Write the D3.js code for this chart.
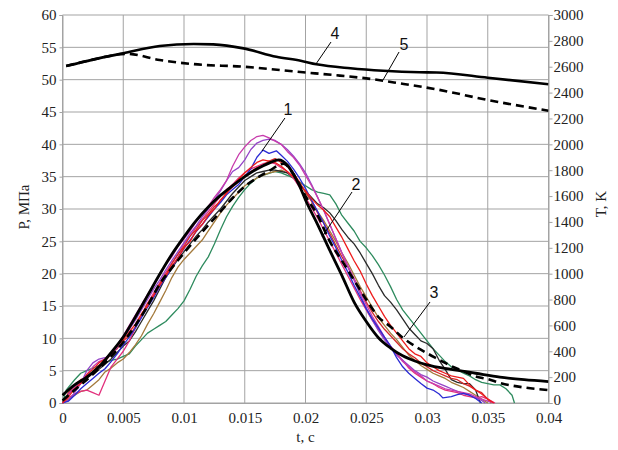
<!DOCTYPE html>
<html><head><meta charset="utf-8">
<script src="https://cdn.jsdelivr.net/npm/d3@7/dist/d3.min.js"></script>
<style>body{margin:0;background:#fff}svg{display:block}.serif{font-family:"Liberation Serif","Times New Roman",serif}</style>
</head><body><svg id="c" width="618" height="450"></svg>
<script>
// ---- ticks ----
const xTicks = [0,0.005,0.01,0.015,0.02,0.025,0.03,0.035,0.04];
const xTickLabels = ["0","0.005","0.01","0.015","0.02","0.025","0.03","0.035","0.04"];
const pTicks = [0,5,10,15,20,25,30,35,40,45,50,55,60];
const tTicks = [0,200,400,600,800,1000,1200,1400,1600,1800,2000,2200,2400,2600,2800,3000];

// ---- experimental pressure curves [t (s), P (MPa)] ----
const expBlue = [[0,0],[0.0005,0.3],[0.001,1.2],[0.0015,2.2],[0.002,3.0],[0.0025,3.8],[0.003,4.6],[0.0035,5.3],[0.004,6.4],[0.0045,7.6],[0.005,9.0],[0.0055,10.2],[0.006,11.6],[0.0065,13.2],[0.007,14.8],[0.0075,16.3],[0.008,18.0],[0.0085,19.4],[0.009,20.9],[0.0095,22.5],[0.010,23.9],[0.0105,25.2],[0.011,26.5],[0.0115,27.6],[0.012,28.8],[0.0125,30.0],[0.013,31.0],[0.0135,32.2],[0.014,33.0],[0.0145,33.8],[0.015,35.0],[0.0155,36.2],[0.016,38.0],[0.0165,39.1],[0.017,38.6],[0.0176,39.0],[0.018,38.3],[0.0185,37.4],[0.019,36.2],[0.0195,34.8],[0.020,33.2],[0.0205,31.4],[0.021,29.6],[0.0215,27.8],[0.022,25.8],[0.0225,24.0],[0.023,22.0],[0.0235,20.2],[0.024,18.2],[0.0245,16.4],[0.025,14.6],[0.0255,13.0],[0.026,11.6],[0.0265,10.2],[0.027,8.8],[0.0275,7.0],[0.028,5.6],[0.0285,4.6],[0.029,3.8],[0.0295,3.0],[0.030,2.3],[0.0305,2.0],[0.031,1.4],[0.0313,0.8],[0.032,1.0],[0.0325,1.3],[0.033,1.5],[0.0335,1.2],[0.034,0.7],[0.0345,0]];
const expRed1 = [[0,0],[0.0005,1.0],[0.001,2.2],[0.0015,3.0],[0.002,4.4],[0.0025,5.2],[0.003,6.2],[0.0035,6.8],[0.004,7.6],[0.0045,8.8],[0.005,9.8],[0.0055,11.0],[0.006,12.2],[0.0065,13.8],[0.007,15.0],[0.0075,16.6],[0.008,18.2],[0.0085,19.6],[0.009,21.2],[0.0095,22.4],[0.010,24.0],[0.0105,25.0],[0.011,26.6],[0.0115,27.6],[0.012,29.0],[0.0125,30.0],[0.013,31.4],[0.0135,32.4],[0.014,33.6],[0.0145,34.6],[0.015,35.6],[0.0155,36.4],[0.016,37.2],[0.0165,37.6],[0.017,37.4],[0.0175,37.2],[0.018,36.6],[0.0185,35.8],[0.019,35.0],[0.0195,33.8],[0.020,32.8],[0.0205,31.6],[0.021,30.6],[0.0215,29.8],[0.022,28.8],[0.0225,27.2],[0.023,25.6],[0.0235,23.8],[0.024,22.0],[0.0245,20.4],[0.025,18.4],[0.0255,16.6],[0.026,15.0],[0.0265,13.4],[0.027,12.0],[0.0275,10.8],[0.028,9.6],[0.0285,8.4],[0.029,7.6],[0.0295,7.2],[0.030,6.2],[0.0305,5.6],[0.031,5.0],[0.0315,4.6],[0.032,4.2],[0.0325,4.0],[0.033,3.8],[0.0335,2.8],[0.034,2.0],[0.0345,1.4],[0.035,0.6],[0.0355,0]];
const expRed2 = [[0,0],[0.0005,1.6],[0.001,2.8],[0.0015,3.6],[0.002,4.0],[0.0025,4.8],[0.003,5.8],[0.0035,6.4],[0.004,7.6],[0.0045,8.4],[0.005,9.6],[0.0055,10.4],[0.006,11.8],[0.0065,13.6],[0.007,15.4],[0.0075,16.6],[0.008,18.4],[0.0085,19.8],[0.009,21.6],[0.0095,23.0],[0.010,24.2],[0.0105,25.8],[0.011,26.8],[0.0115,28.2],[0.012,29.2],[0.0125,30.4],[0.013,31.2],[0.0135,32.6],[0.014,33.4],[0.0145,34.2],[0.015,35.2],[0.0155,35.8],[0.016,36.4],[0.0165,36.8],[0.017,37.4],[0.0175,37.8],[0.018,37.2],[0.0185,36.6],[0.019,35.6],[0.0195,34.2],[0.020,32.6],[0.0205,31.2],[0.021,29.4],[0.0215,27.8],[0.022,26.2],[0.0225,24.4],[0.023,22.6],[0.0235,21.0],[0.024,19.2],[0.0245,17.4],[0.025,15.6],[0.0255,14.0],[0.026,12.6],[0.0265,11.4],[0.027,10.4],[0.0275,9.4],[0.028,8.4],[0.0285,7.6],[0.029,7.0],[0.0295,6.2],[0.030,5.6],[0.0305,5.0],[0.031,4.6],[0.0315,4.2],[0.032,3.8],[0.0325,3.6],[0.033,3.0],[0.0335,2.6],[0.034,2.0],[0.0345,1.6],[0.035,0.6],[0.0353,0]];
const expMagenta = [[0,0],[0.0005,1.4],[0.001,2.4],[0.0015,3.2],[0.002,4.4],[0.0025,5.6],[0.003,6.4],[0.0035,6.8],[0.004,7.8],[0.0045,9.0],[0.005,10.4],[0.0055,12.0],[0.006,13.6],[0.0065,15.2],[0.007,16.8],[0.0075,18.2],[0.008,19.8],[0.0085,21.4],[0.009,22.6],[0.0095,24.2],[0.010,25.4],[0.0105,26.6],[0.011,28.0],[0.0115,29.2],[0.012,30.4],[0.0125,31.8],[0.013,33.0],[0.0135,34.4],[0.014,36.6],[0.0145,38.4],[0.015,39.6],[0.0155,40.6],[0.016,41.2],[0.0165,41.4],[0.017,41.0],[0.0175,40.5],[0.018,40.0],[0.0185,38.9],[0.019,38.0],[0.0195,36.8],[0.020,35.2],[0.0205,33.6],[0.021,31.8],[0.0215,29.8],[0.022,27.6],[0.0225,25.4],[0.023,23.2],[0.0235,21.2],[0.024,19.2],[0.0245,17.2],[0.025,15.2],[0.0255,13.4],[0.026,11.8],[0.0265,10.2],[0.027,8.8],[0.0275,7.6],[0.028,6.4],[0.0285,5.6],[0.029,4.8],[0.0295,4.2],[0.030,3.4],[0.0305,3.0],[0.031,2.6],[0.0315,2.2],[0.032,2.0],[0.0325,1.8],[0.033,1.6],[0.0335,1.4],[0.034,1.0],[0.0345,0.6],[0.035,0.3],[0.0355,0]];
const expPurple = [[0,0],[0.0005,0.4],[0.001,1.6],[0.0015,3.0],[0.002,5.0],[0.0025,6.2],[0.003,6.8],[0.0035,7.0],[0.004,7.4],[0.0045,8.6],[0.005,10.0],[0.0055,11.4],[0.006,12.8],[0.0065,14.4],[0.007,16.0],[0.0075,17.6],[0.008,19.0],[0.0085,20.6],[0.009,22.0],[0.0095,23.4],[0.010,24.8],[0.0105,26.2],[0.011,27.4],[0.0115,28.8],[0.012,30.0],[0.0125,31.4],[0.013,32.8],[0.0135,34.4],[0.014,35.8],[0.0145,36.4],[0.015,37.6],[0.0155,39.2],[0.016,40.2],[0.0165,40.6],[0.017,40.8],[0.0175,40.6],[0.018,40.0],[0.0185,39.2],[0.019,38.2],[0.0195,37.0],[0.020,35.6],[0.0205,33.8],[0.021,31.8],[0.0215,29.8],[0.022,27.6],[0.0225,25.4],[0.023,23.2],[0.0235,21.0],[0.024,19.0],[0.0245,16.8],[0.025,14.6],[0.0255,12.8],[0.026,11.2],[0.0265,9.8],[0.027,8.6],[0.0275,7.4],[0.028,6.6],[0.0285,5.8],[0.029,5.0],[0.0295,4.4],[0.030,4.0],[0.0305,3.4],[0.031,3.0],[0.0315,2.6],[0.032,2.2],[0.0325,1.8],[0.033,1.5],[0.0335,1.2],[0.034,0.8],[0.0345,0.4],[0.0348,0]];
const expGreen = [[0,0],[0.0003,2.0],[0.001,3.6],[0.0015,4.6],[0.002,5.0],[0.0025,5.4],[0.003,5.8],[0.0035,6.2],[0.004,6.6],[0.0045,6.8],[0.005,7.2],[0.0055,7.6],[0.006,8.8],[0.0065,9.8],[0.007,10.8],[0.0075,11.4],[0.008,12.0],[0.0085,12.6],[0.009,13.6],[0.0095,14.6],[0.010,15.8],[0.0105,17.6],[0.011,19.6],[0.0115,21.2],[0.012,22.6],[0.0125,24.6],[0.013,26.8],[0.0135,28.8],[0.014,30.4],[0.0145,31.8],[0.015,33.0],[0.0155,34.0],[0.016,34.8],[0.0165,35.2],[0.017,35.5],[0.0175,35.8],[0.018,35.6],[0.0185,35.2],[0.019,34.8],[0.0195,34.2],[0.020,33.6],[0.0205,33.0],[0.021,32.6],[0.0215,32.4],[0.022,32.2],[0.0225,30.8],[0.023,29.0],[0.0235,27.8],[0.024,26.6],[0.0245,25.0],[0.025,24.0],[0.0255,22.8],[0.026,21.4],[0.0265,19.8],[0.027,18.0],[0.0275,16.0],[0.028,14.4],[0.0285,13.2],[0.029,12.0],[0.0295,10.8],[0.030,9.6],[0.0305,8.4],[0.031,7.4],[0.0315,6.4],[0.032,5.6],[0.0325,5.2],[0.033,4.6],[0.0335,4.2],[0.034,3.6],[0.0345,3.2],[0.035,3.0],[0.0355,2.8],[0.036,2.8],[0.0365,2.2],[0.037,1.2],[0.0372,0]];
const expBrown = [[0,0],[0.0005,0.6],[0.001,1.2],[0.0015,1.8],[0.002,2.0],[0.0025,2.8],[0.003,3.6],[0.0035,4.8],[0.004,5.4],[0.0045,6.2],[0.005,6.8],[0.0055,7.8],[0.006,9.0],[0.0065,10.4],[0.007,12.2],[0.0075,13.8],[0.008,15.6],[0.0085,17.4],[0.009,19.4],[0.0095,21.0],[0.010,22.2],[0.0105,23.2],[0.011,24.2],[0.0115,25.2],[0.012,26.6],[0.0125,28.0],[0.013,29.4],[0.0135,30.6],[0.014,31.6],[0.0145,32.6],[0.015,33.6],[0.0155,34.2],[0.016,34.8],[0.0165,35.2],[0.017,35.6],[0.0175,35.8],[0.018,36.0],[0.0185,35.6],[0.019,35.0],[0.0195,34.0],[0.020,32.6],[0.0205,31.2],[0.021,29.6],[0.0215,28.2],[0.022,26.6],[0.0225,25.0],[0.023,23.2],[0.0235,21.6],[0.024,19.8],[0.0245,18.0],[0.025,16.4],[0.0255,14.8],[0.026,13.2],[0.0265,12.0],[0.027,10.8],[0.0275,9.8],[0.028,8.6],[0.0285,7.4],[0.029,6.6],[0.0295,5.8],[0.030,5.2],[0.0305,4.6],[0.031,4.2],[0.0315,3.8],[0.032,3.2],[0.0325,2.8],[0.033,2.4],[0.0335,1.8],[0.034,1.2],[0.0345,0.6],[0.035,0]];
const expBlack = [[0,0],[0.0005,1.4],[0.001,2.4],[0.0015,3.0],[0.002,3.8],[0.0025,4.6],[0.003,5.2],[0.0035,6.0],[0.004,6.8],[0.0045,7.8],[0.005,8.8],[0.0055,9.6],[0.006,11.0],[0.0065,12.6],[0.007,14.2],[0.0075,15.8],[0.008,17.6],[0.0085,19.4],[0.009,20.8],[0.0095,22.2],[0.010,23.4],[0.0105,24.6],[0.011,25.8],[0.0115,26.8],[0.012,28.0],[0.0125,29.0],[0.013,30.0],[0.0135,31.2],[0.014,32.4],[0.0145,33.4],[0.015,34.4],[0.0155,35.0],[0.016,35.6],[0.0165,35.8],[0.017,36.0],[0.0175,36.0],[0.018,35.8],[0.0185,35.6],[0.019,34.8],[0.0195,33.8],[0.020,32.8],[0.0205,31.8],[0.021,30.8],[0.0215,30.2],[0.022,29.4],[0.0225,28.2],[0.023,26.8],[0.0235,25.6],[0.024,24.6],[0.0245,23.2],[0.025,21.6],[0.0255,20.0],[0.026,18.2],[0.0265,16.6],[0.027,15.6],[0.0275,14.4],[0.028,13.0],[0.0285,11.6],[0.029,10.6],[0.0295,9.6],[0.030,9.2],[0.0305,8.4],[0.031,6.6],[0.0315,5.2],[0.032,3.6],[0.0325,3.2],[0.033,3.0],[0.0335,3.0],[0.034,2.0],[0.0344,0]];
const expPink = [[0,0],[0.0005,0.8],[0.001,1.4],[0.0015,1.8],[0.002,2.0],[0.0025,1.6],[0.003,1.2],[0.0035,3.4],[0.004,5.6],[0.0045,6.8],[0.005,8.0],[0.0055,9.6],[0.006,11.6],[0.0065,13.4],[0.007,15.4],[0.0075,17.0],[0.008,18.6],[0.0085,20.2],[0.009,21.6],[0.0095,23.0],[0.010,24.6],[0.0105,25.8],[0.011,27.2],[0.0115,28.4],[0.012,29.6],[0.0125,30.8],[0.013,32.0],[0.0135,33.0],[0.014,33.8],[0.0145,34.8],[0.015,35.6],[0.0155,36.2],[0.016,36.6],[0.0165,37.0],[0.017,37.2],[0.0175,37.0],[0.018,36.4],[0.0185,35.8],[0.019,34.8],[0.0195,33.4],[0.020,31.8],[0.0205,30.2],[0.021,28.6],[0.0215,26.8],[0.022,25.0],[0.0225,23.2],[0.023,21.4],[0.0235,19.6],[0.024,17.8],[0.0245,16.0],[0.025,14.4],[0.0255,12.8],[0.026,11.4],[0.0265,10.0],[0.027,8.8],[0.0275,7.6],[0.028,6.6],[0.0285,5.4],[0.029,4.6],[0.0295,4.0],[0.030,3.4],[0.0305,3.0],[0.031,2.4],[0.0315,2.0],[0.032,1.8],[0.0325,1.6],[0.033,1.2],[0.0335,1.0],[0.034,0.8],[0.0345,1.0],[0.035,0.6],[0.0356,0]];

// ---- calculated curves ----
// curve 2: calculated pressure (solid), curve 3: calculated pressure (dashed)
const calcP2 = [[0,1.2],[0.001,2.8],[0.002,4.0],[0.003,5.6],[0.004,7.8],[0.005,10.2],[0.006,13.3],[0.007,16.6],[0.008,19.9],[0.009,23.0],[0.010,25.7],[0.011,28.2],[0.012,30.3],[0.013,32.1],[0.014,33.6],[0.015,35.0],[0.016,36.2],[0.017,37.1],[0.0178,37.6],[0.0185,36.8],[0.019,35.4],[0.0195,33.6],[0.020,31.4],[0.021,27.6],[0.022,23.6],[0.023,19.7],[0.024,15.6],[0.025,12.6],[0.026,10.1],[0.027,8.5],[0.028,7.3],[0.029,6.5],[0.030,5.9],[0.032,5.2],[0.034,4.6],[0.036,4.0],[0.038,3.6],[0.040,3.3]];
const calcP3 = [[0,0.4],[0.001,2.0],[0.002,3.6],[0.003,5.3],[0.004,7.2],[0.005,9.4],[0.006,12.0],[0.007,15.0],[0.008,18.4],[0.009,20.9],[0.010,23.2],[0.011,25.4],[0.012,27.5],[0.013,29.6],[0.014,31.7],[0.015,33.5],[0.016,34.8],[0.017,35.9],[0.0182,37.0],[0.019,35.4],[0.020,32.0],[0.021,29.0],[0.022,25.0],[0.023,22.0],[0.024,19.0],[0.025,16.0],[0.026,13.3],[0.027,11.8],[0.028,10.1],[0.029,8.8],[0.030,7.7],[0.031,6.7],[0.032,5.7],[0.033,4.9],[0.034,4.1],[0.035,3.7],[0.036,3.1],[0.038,2.4],[0.040,2.0]];
// curves 4 and 5: temperature, K (right axis)
const calcT4 = [[0.0003,2605],[0.0025,2655],[0.005,2704],[0.008,2760],[0.0108,2776],[0.0124,2773],[0.0149,2742],[0.0176,2677],[0.0196,2646],[0.0209,2619],[0.0237,2588],[0.0264,2569],[0.0294,2557],[0.0308,2555],[0.035,2515],[0.040,2464]];
const calcT5 = [[0.0003,2605],[0.0025,2655],[0.0053,2700],[0.008,2652],[0.0108,2620],[0.0149,2600],[0.0198,2557],[0.0223,2536],[0.025,2510],[0.0278,2471],[0.0308,2425],[0.035,2343],[0.040,2260]];

// ---- curve numbering annotations: [textT, textP, fromT, fromP, toT, toP] ----
const noteLabels = ["1","2","3","4","5"];
const notePos = [[0.01856,45.46,0.01831,44.07,0.01642,38.97],[0.02416,33.87,0.02383,32.63,0.02136,25.67],[0.03058,17.16,0.03025,15.62,0.02811,10.21],[0.02243,57.22,0.02210,55.82,0.02086,52.42],[0.02811,55.52,0.02770,54.28,0.02638,49.95]];

const expSeries = [
  {d:expGreen,c:"#2e8b5e"},{d:expBrown,c:"#a47a3c"},{d:expBlack,c:"#2a2a2a"},
  {d:expPink,c:"#e2307c"},{d:expRed2,c:"#d42a2a"},{d:expPurple,c:"#9444c8"},
  {d:expMagenta,c:"#c83cac"},{d:expBlue,c:"#2a2ad4"},{d:expRed1,c:"#ee1c1c"}
];

const svg = d3.select("#c");
const x = d3.scaleLinear().domain([0,0.04]).range([62.5,548.5]);
const y = d3.scaleLinear().domain([0,60]).range([403,15]);
const yT = d3.scaleLinear().domain([0,3000]).range([403,15]);
const serif = '"Liberation Serif","Times New Roman",serif';
const grid = "#a3a3a3";

// grid
svg.append("g").selectAll("line").data(xTicks).join("line")
  .attr("x1",d=>x(d)).attr("x2",d=>x(d)).attr("y1",y(0)).attr("y2",y(60))
  .attr("stroke",grid).attr("stroke-width",1);
svg.append("g").selectAll("line").data(pTicks).join("line")
  .attr("x1",x(0)).attr("x2",x(0.04)).attr("y1",d=>y(d)).attr("y2",d=>y(d))
  .attr("stroke",grid).attr("stroke-width",1);

// axes
const gl = svg.append("g").attr("transform",`translate(${x(0)},0)`)
  .call(d3.axisLeft(y).tickValues(pTicks).tickSize(3).tickPadding(3).tickFormat(d3.format("d")));
const gr = svg.append("g").attr("transform",`translate(${x(0.04)},0)`)
  .call(d3.axisRight(yT).tickValues(tTicks).tickSize(4).tickPadding(1).tickFormat(d3.format("d")));
const gb = svg.append("g").attr("transform",`translate(0,${y(0)})`)
  .call(d3.axisBottom(x).tickValues(xTicks).tickSize(0).tickPadding(9).tickFormat((d,i)=>xTickLabels[i]));
[gl,gr,gb].forEach(g=>{
  g.attr("font-family",null).attr("font-size",null);
  g.select(".domain").attr("stroke",grid);
  g.selectAll(".tick line").attr("stroke",grid);
  g.selectAll("text").attr("class","serif").style("font-family",serif).style("font-size","15px").attr("fill","#222");
});
gr.selectAll(".tick").filter(d=>d===0).select("text").attr("dy","0.1em");

// axis titles
function title(tr, txt){
  svg.append("text").attr("transform",tr).attr("text-anchor","middle").attr("dy","0.35em")
    .attr("class","serif").style("font-family",serif).style("font-size","15px").attr("fill","#222").text(txt);
}
title("translate(24,207) rotate(-90)","P, МПа");
title("translate(601,204) rotate(-90)","T, K");
title(`translate(${(x(0)+x(0.04))/2},437)`,"t, с");

// clip
svg.append("clipPath").attr("id","pc").append("rect")
  .attr("x",x(0)-1).attr("y",y(60)).attr("width",x(0.04)-x(0)+1).attr("height",y(0)-y(60)+1);
const plot = svg.append("g").attr("clip-path","url(#pc)");

const lineP = d3.line().x(d=>x(d[0])).y(d=>y(d[1]));
const lineS = d3.line().x(d=>x(d[0])).y(d=>y(d[1])).curve(d3.curveMonotoneX);
const lineT = d3.line().x(d=>x(d[0])).y(d=>yT(d[1])).curve(d3.curveMonotoneX);

plot.selectAll("path.exp").data(expSeries).join("path").attr("class","exp")
  .attr("d",s=>lineP(s.d)).attr("fill","none").attr("stroke",s=>s.c)
  .attr("stroke-width",1.3).attr("stroke-linejoin","round");

plot.append("path").attr("d",lineS(calcP3)).attr("fill","none").attr("stroke","#000")
  .attr("stroke-width",2.6).attr("stroke-dasharray","8,5");
plot.append("path").attr("d",lineS(calcP2)).attr("fill","none").attr("stroke","#000")
  .attr("stroke-width",2.8);
plot.append("path").attr("d",lineT(calcT5)).attr("fill","none").attr("stroke","#000")
  .attr("stroke-width",2.6).attr("stroke-dasharray","8,5");
plot.append("path").attr("d",lineT(calcT4)).attr("fill","none").attr("stroke","#000")
  .attr("stroke-width",2.6);

// annotations
const ann = svg.append("g");
notePos.forEach((p,i)=>{
  ann.append("line").attr("x1",x(p[2])).attr("y1",y(p[3])).attr("x2",x(p[4])).attr("y2",y(p[5]))
    .attr("stroke","#000").attr("stroke-width",1);
  ann.append("text").attr("x",x(p[0])).attr("y",y(p[1])).attr("dy","0.35em").attr("text-anchor","middle")
    .style("font-family",'"Liberation Sans",Arial,sans-serif').style("font-size","16px").attr("fill","#111")
    .text(noteLabels[i]);
});
</script></body></html>
